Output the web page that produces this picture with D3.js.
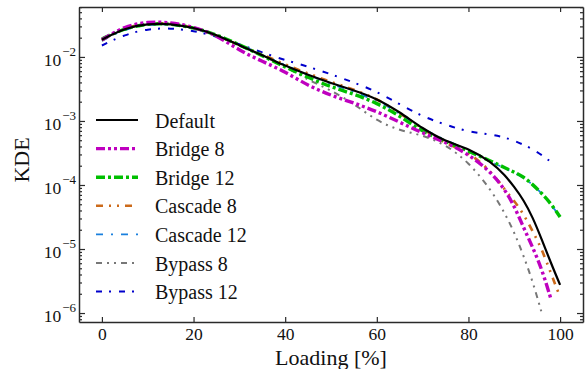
<!DOCTYPE html>
<html>
<head>
<meta charset="utf-8">
<script src="https://cdn.jsdelivr.net/npm/d3@7"></script>
<style>
  body { margin: 0; background: #fff; }
  svg { display: block; }
  svg text { font-family: "Liberation Serif", "Times New Roman", serif; }
</style>
</head>
<body>
<div id="chart"></div>
<script>
// loading grid [%] shared by every series
const loading = [0, 5, 10, 15, 20, 25, 30, 35, 40, 45, 50, 55, 60, 65, 70, 75, 80, 85, 88, 90, 92, 94, 96, 98, 100];

// KDE values (null = curve already ended)
const kdeDefault   = [1.86e-2, 2.82e-2, 3.31e-2, 3.31e-2, 2.88e-2, 2.24e-2, 1.51e-2, 1.07e-2, 7.24e-3, 5.25e-3, 3.89e-3, 3.02e-3, 2.24e-3, 1.38e-3, 7.59e-4, 4.79e-4, 3.72e-4, 2.29e-4, 1.41e-4, 9.33e-5, 5.89e-5, 3.16e-5, 1.41e-5, 6.03e-6, 2.75e-6];
const kdeBridge8   = [1.86e-2, 3.02e-2, 3.55e-2, 3.47e-2, 2.95e-2, 2.19e-2, 1.26e-2, 8.51e-3, 5.89e-3, 3.55e-3, 2.51e-3, 1.91e-3, 1.41e-3, 9.55e-4, 6.46e-4, 4.68e-4, 3.02e-4, 1.58e-4, 8.32e-5, 4.68e-5, 2.19e-5, 1.07e-5, 4.90e-6, 1.66e-6, null];
const kdeBridge12  = [1.91e-2, 2.82e-2, 3.31e-2, 3.31e-2, 2.88e-2, 2.24e-2, 1.55e-2, 1.05e-2, 6.92e-3, 4.79e-3, 3.39e-3, 2.63e-3, 1.91e-3, 1.20e-3, 6.76e-4, 4.79e-4, 3.39e-4, 2.34e-4, 1.86e-4, 1.58e-4, 1.35e-4, 1.02e-4, 7.41e-5, 5.13e-5, 3.16e-5];
const kdeCascade8  = [1.82e-2, 2.88e-2, 3.39e-2, 3.39e-2, 2.88e-2, 2.19e-2, 1.51e-2, 1.10e-2, 7.59e-3, 5.50e-3, 4.07e-3, 3.09e-3, 2.24e-3, 1.32e-3, 7.59e-4, 4.37e-4, 3.31e-4, 1.62e-4, 8.32e-5, 5.62e-5, 3.55e-5, 1.91e-5, 1.00e-5, 4.17e-6, 1.78e-6];
const kdeCascade12 = [1.78e-2, 2.75e-2, 3.24e-2, 3.24e-2, 2.82e-2, 2.19e-2, 1.55e-2, 1.10e-2, 7.41e-3, 5.25e-3, 3.80e-3, 2.82e-3, 2.09e-3, 1.32e-3, 7.41e-4, 5.01e-4, 3.55e-4, 2.29e-4, 1.82e-4, 1.55e-4, 1.29e-4, 1.02e-4, 7.41e-5, 4.90e-5, 3.24e-5];
const kdeBypass8   = [1.86e-2, 2.88e-2, 3.39e-2, 3.39e-2, 2.88e-2, 2.19e-2, 1.51e-2, 1.05e-2, 7.08e-3, 4.37e-3, 3.02e-3, 1.86e-3, 1.00e-3, 7.08e-4, 6.03e-4, 4.27e-4, 2.29e-4, 8.32e-5, 3.55e-5, 1.82e-5, 7.94e-6, 3.16e-6, 1.00e-6, null, null];
const kdeBypass12  = [1.51e-2, 2.24e-2, 2.75e-2, 2.82e-2, 2.57e-2, 2.09e-2, 1.58e-2, 1.17e-2, 8.91e-3, 7.08e-3, 5.37e-3, 3.98e-3, 2.88e-3, 1.82e-3, 1.17e-3, 8.71e-4, 6.76e-4, 6.17e-4, 5.50e-4, 4.90e-4, 4.27e-4, 3.63e-4, 2.95e-4, 2.29e-4, null];

const seriesNames = ["Default", "Bridge 8", "Bridge 12", "Cascade 8", "Cascade 12", "Bypass 8", "Bypass 12"];
const seriesValues = [kdeDefault, kdeBridge8, kdeBridge12, kdeCascade8, kdeCascade12, kdeBypass8, kdeBypass12];

const xTicks = [0, 20, 40, 60, 80, 100];
const yExponents = [-6, -5, -4, -3, -2];

// line styles, same order as the series
const styles = [
  {color: "#000000", width: 2.2, dash: null},
  {color: "#bf00bf", width: 3.4, dash: "9,3,3,3,3,3"},
  {color: "#00bf00", width: 3.4, dash: "9,3,3,3"},
  {color: "#cc6a1a", width: 2.6, dash: "7,6,2,6,2,6"},
  {color: "#1a80dd", width: 1.8, dash: "7,8,2,8"},
  {color: "#777777", width: 2, dash: "6,5,2,5,2,5"},
  {color: "#0000cc", width: 2, dash: "6,7,2,8"}
];

const W = 585, H = 369;
const margin = {top: 7, right: 2, bottom: 47, left: 79},
  width = W - margin.left - margin.right,
  height = H - margin.top - margin.bottom;

const serif = '"Liberation Serif", "Times New Roman", serif';

const svg = d3.select("#chart")
  .append("svg")
  .attr("width", W)
  .attr("height", H)
  .append("g")
  .attr("transform", `translate(${margin.left},${margin.top})`);

const x = d3.scaleLinear().domain([-5, 105]).range([0, width]);
const y = d3.scaleLog().domain([Math.pow(10, -6.14), Math.pow(10, -1.22)]).range([height, 0]);

// minor log ticks 2..9 of each decade inside the domain
const yMinor = [];
for (let e = -7; e <= -2; e++) {
  for (let m = 2; m <= 9; m++) {
    const v = m * Math.pow(10, e);
    if (v >= y.domain()[0] && v <= y.domain()[1]) yMinor.push(v);
  }
}
const yMajor = yExponents.map(e => Math.pow(10, e));

const axisColor = "#2a2a2a";

function styleAxis(g) {
  g.attr("font-family", serif);
  g.selectAll(".domain").attr("stroke", axisColor).attr("stroke-width", 1.5);
  g.selectAll(".tick line").attr("stroke", axisColor).attr("stroke-width", 1.2);
}

// curves
svg.append("clipPath").attr("id", "clip")
  .append("rect").attr("width", width).attr("height", height);

const line = d3.line()
  .defined(d => d[1] != null)
  .x(d => x(d[0]))
  .y(d => y(d[1]))
  .curve(d3.curveBasis);

const curves = svg.append("g").attr("clip-path", "url(#clip)");
// draw in reverse so Default ends on top
seriesValues.slice().reverse().forEach((vals, k) => {
  const i = seriesValues.length - 1 - k;
  const st = styles[i];
  curves.append("path")
    .datum(loading.map((l, j) => [l, vals[j]]))
    .attr("fill", "none")
    .attr("stroke", st.color)
    .attr("stroke-width", st.width)
    .attr("stroke-dasharray", st.dash)
    .attr("d", line);
});

// bottom axis
svg.append("g")
  .attr("transform", `translate(0,${height})`)
  .call(d3.axisBottom(x).tickValues(xTicks).tickSizeInner(-5).tickSizeOuter(0).tickPadding(6))
  .call(styleAxis)
  .selectAll("text")
  .attr("fill", "#111")
  .style("font-size", "17.5px");

// top axis (ticks only)
svg.append("g")
  .call(d3.axisTop(x).tickValues(xTicks).tickSizeInner(-5).tickSizeOuter(0).tickFormat(""))
  .call(styleAxis);

// left axis
const yAxisL = svg.append("g")
  .call(d3.axisLeft(y).tickValues(yMajor).tickSizeInner(-6).tickSizeOuter(0).tickPadding(3))
  .call(styleAxis);

yAxisL.selectAll(".tick text")
  .each(function(d) {
    const t = d3.select(this);
    const e = Math.round(Math.log10(d));
    t.text(null)
      .attr("fill", "#111")
      .attr("dy", "0.47em")
      .style("font-size", "17.5px");
    t.append("tspan").text("10");
    t.append("tspan").attr("dy", -10).attr("dx", 1).style("font-size", "13px").text("\u2212" + Math.abs(e));
  });

svg.append("g")
  .call(d3.axisLeft(y).tickValues(yMinor).tickSizeInner(-3).tickSizeOuter(0).tickFormat(""))
  .call(styleAxis)
  .select(".domain").remove();

// right axis
svg.append("g")
  .attr("transform", `translate(${width},0)`)
  .call(d3.axisRight(y).tickValues(yMajor).tickSizeInner(-6).tickSizeOuter(0).tickFormat(""))
  .call(styleAxis);

svg.append("g")
  .attr("transform", `translate(${width},0)`)
  .call(d3.axisRight(y).tickValues(yMinor).tickSizeInner(-3).tickSizeOuter(0).tickFormat(""))
  .call(styleAxis)
  .select(".domain").remove();

// axis titles
svg.append("text")
  .attr("x", 331 - margin.left)
  .attr("y", 365 - margin.top)
  .attr("text-anchor", "middle")
  .style("font-size", "22px")
  .attr("fill", "#111")
  .text("Loading [%]");

svg.append("text")
  .attr("transform", `translate(${28.5 - margin.left},${160 - margin.top}) rotate(-90)`)
  .attr("text-anchor", "middle")
  .style("font-size", "22px")
  .attr("fill", "#111")
  .text("KDE");

// legend
const legend = svg.append("g").attr("transform", `translate(${96 - margin.left},${120 - margin.top})`);

seriesNames.forEach((name, i) => {
  const st = styles[i];
  const row = legend.append("g").attr("transform", `translate(0,${i * 28.6})`);
  row.append("line")
    .attr("x1", 0).attr("x2", 42)
    .attr("stroke", st.color)
    .attr("stroke-width", st.width)
    .attr("stroke-dasharray", st.dash);
  row.append("text")
    .attr("x", 59)
    .attr("dy", "0.38em")
    .attr("fill", "#111")
    .style("font-size", "20px")
    .text(name);
});
</script>
</body>
</html>
